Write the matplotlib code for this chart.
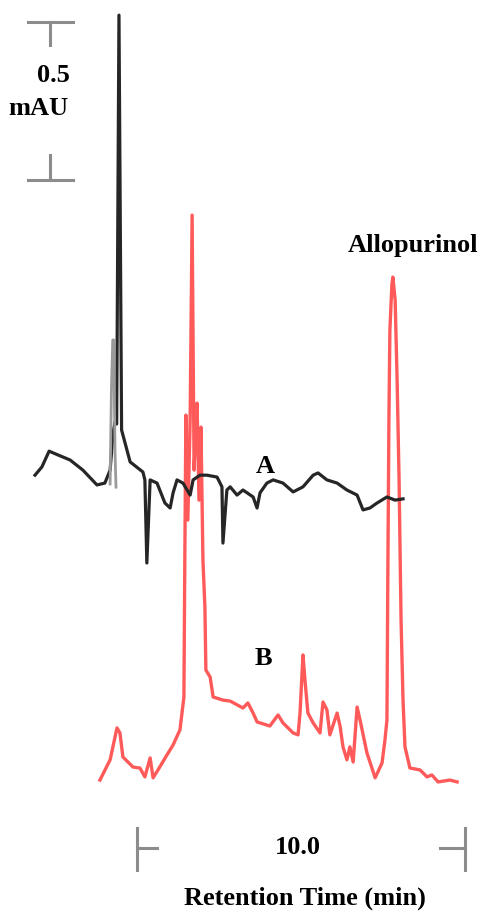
import numpy as np
import matplotlib
matplotlib.use("Agg")
import matplotlib.pyplot as plt

plt.rcParams['font.family'] = ['Liberation Serif', 'DejaVu Serif']
plt.rcParams['font.weight'] = 'bold'

# chromatogram A (blank), time in min, absorbance in mAU (stacked offset)
tA = [0.89, 1.10, 1.32, 1.59, 1.96, 2.35, 2.78, 3.02, 3.18, 3.27, 3.33, 3.38,
      3.45, 3.53, 3.79, 4.18, 4.24, 4.30, 4.40, 4.61, 4.85, 5.01, 5.10, 5.22,
      5.40, 5.62, 5.71, 5.92, 6.13, 6.44, 6.59, 6.62, 6.74, 6.84, 7.05, 7.23,
      7.54, 7.66, 7.75, 7.96, 8.15, 8.45, 8.76, 9.06, 9.37, 9.52, 9.79, 10.10,
      10.40, 10.71, 10.89, 11.10, 11.32, 11.62, 11.87, 12.11]
aA = [1.028, 1.054, 1.104, 1.092, 1.076, 1.044, 0.997, 1.003, 1.044, 1.161, 1.196,
      1.190, 2.484, 1.171, 1.070, 1.038, 1.013, 0.750, 1.013, 1.003, 0.940, 0.924,
      0.972, 1.013, 1.003, 0.965, 1.013, 1.028, 1.028, 1.022, 0.991, 0.813, 0.981,
      0.991, 0.965, 0.981, 0.959, 0.924, 0.972, 1.003, 1.013, 1.003, 0.975, 0.991,
      1.028, 1.035, 1.013, 1.003, 0.981, 0.965, 0.918, 0.924, 0.940, 0.959, 0.949,
      0.953]
# grey shoulder next to the big blank peak
tA_sh = [3.18, 3.22, 3.26, 3.29, 3.33, 3.36]
aA_sh = [1.000, 1.300, 1.456, 1.456, 1.100, 0.990]

# chromatogram B (sample)
tB = [2.87, 3.18, 3.39, 3.48, 3.57, 3.88, 4.09, 4.24, 4.40, 4.49, 4.64, 4.91,
      5.10, 5.31, 5.43, 5.46, 5.49, 5.55, 5.62, 5.68, 5.74, 5.80, 5.83, 5.89,
      5.95, 6.01, 6.07, 6.10, 6.23, 6.32, 6.62, 6.84, 7.23, 7.38, 7.54, 7.66,
      8.05, 8.30, 8.45, 8.76, 8.91, 8.97, 9.06, 9.12, 9.21, 9.37, 9.58, 9.67,
      9.79, 9.88, 10.10, 10.19, 10.28, 10.40, 10.49, 10.59, 10.71, 10.80, 11.01,
      11.26, 11.47, 11.56, 11.62, 11.65, 11.68, 11.71, 11.77, 11.80, 11.87, 11.93,
      11.99, 12.05, 12.11, 12.17, 12.32, 12.63, 12.84, 12.99, 13.18, 13.54, 13.76]
aB = [0.063, 0.127, 0.228, 0.212, 0.136, 0.104, 0.101, 0.073, 0.133, 0.070, 0.095,
      0.142, 0.174, 0.222, 0.326, 0.800, 1.218, 0.886, 1.203, 1.851, 1.044, 1.203,
      1.256, 0.949, 1.180, 0.759, 0.611, 0.411, 0.389, 0.326, 0.316, 0.313, 0.291,
      0.307, 0.275, 0.247, 0.234, 0.269, 0.244, 0.212, 0.206, 0.275, 0.459, 0.380,
      0.275, 0.244, 0.212, 0.310, 0.285, 0.206, 0.275, 0.234, 0.168, 0.127, 0.168,
      0.120, 0.294, 0.253, 0.149, 0.070, 0.117, 0.190, 0.253, 0.759, 1.203, 1.487,
      1.630, 1.655, 1.582, 1.329, 1.013, 0.570, 0.316, 0.168, 0.101, 0.095, 0.073,
      0.079, 0.057, 0.063, 0.057]

fig = plt.figure(figsize=(4.8, 9.14), dpi=100)
ax = fig.add_axes([0, 0, 1, 1])
ax.set_xlim(-0.177, 14.457)
ax.set_ylim(-0.361, 2.532)
ax.axis('off')

ax.plot(tB, aB, color='#ff1a1a', lw=2.4, alpha=0.72, solid_joinstyle='round')
ax.plot(tA, aA, color='#262626', lw=2.3, solid_joinstyle='round')
ax.plot(tA_sh, aA_sh, color='#9a9a9a', lw=2.0)

grey = '#8c8c8c'
# absorbance scale bar (0.5 mAU)
ax.plot([0.68, 2.05], [2.462, 2.462], color=grey, lw=2.2)
ax.plot([1.35, 1.35], [2.462, 2.389], color=grey, lw=2.2)
ax.plot([0.68, 2.05], [1.962, 1.962], color=grey, lw=2.2)
ax.plot([1.35, 1.35], [1.962, 2.041], color=grey, lw=2.2)
ax.text(1.96, 2.294, '0.5', ha='right', va='center', fontsize=19)
ax.text(1.90, 2.190, 'mAU', ha='right', va='center', fontsize=19)

# time scale bar (10.0 min)
ax.plot([4.0, 4.0], [-0.089, -0.222], color=grey, lw=2.2)
ax.plot([4.0, 4.61], [-0.152, -0.152], color=grey, lw=2.2)
ax.plot([14.0, 14.0], [-0.089, -0.222], color=grey, lw=2.2)
ax.plot([13.24, 14.0], [-0.152, -0.152], color=grey, lw=2.2)
ax.text(8.89, -0.152, '10.0', ha='center', va='center', fontsize=19)
ax.text(9.13, -0.310, 'Retention Time (min)', ha='center', va='center', fontsize=19)

ax.text(7.90, 1.054, 'A', ha='center', va='center', fontsize=19)
ax.text(7.84, 0.449, 'B', ha='center', va='center', fontsize=19)
ax.text(12.41, 1.756, 'Allopurinol', ha='center', va='center', fontsize=19)

fig.savefig('out.png', dpi=100)
